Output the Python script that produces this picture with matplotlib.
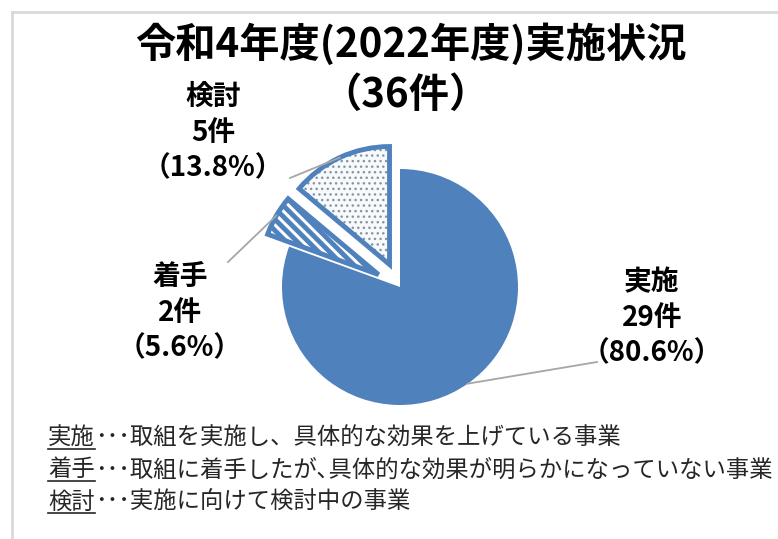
import numpy as np
import matplotlib
matplotlib.use("Agg")
import matplotlib.pyplot as plt
from matplotlib.lines import Line2D

plt.rcParams['font.family'] = ['Noto Sans CJK JP', 'DejaVu Sans']
plt.rcParams['hatch.linewidth'] = 3.5

# data
categories = ["実施", "着手", "検討"]
counts = [29, 2, 5]
percents = ["80.6%", "5.6%", "13.8%"]
total = 36
notes = [
    ("実施", "･･･取組を実施し、具体的な効果を上げている事業"),
    ("着手", "･･･取組に着手したが､具体的な効果が明らかになっていない事業"),
    ("検討", "･･･実施に向けて検討中の事業"),
]

W, H = 778, 539
fig = plt.figure(figsize=(W / 100, H / 100), dpi=100)
ax = fig.add_axes([0, 0, 1, 1])

# light frame on top and left
fig.add_artist(Line2D([12 / W, 12 / W], [0, 1 - 12 / H], color="#d9d9d9", lw=2))
fig.add_artist(Line2D([12 / W, 1], [1 - 12 / H, 1 - 12 / H], color="#d9d9d9", lw=2))

blue = "#4F81BD"
cx, cy, R = 400, 539 - 287, 118
explode = [0, 0.21 * R, 0.21 * R]

wedges, _ = ax.pie(counts, explode=explode, startangle=90, counterclock=False,
                   center=(cx, cy), radius=R, colors=[blue, "white", "#f7fafd"],
                   wedgeprops=dict(linewidth=0), frame=True)
wedges[1].set_hatch("\\\\\\")
wedges[1].set_edgecolor(blue)
wedges[1].set_linewidth(0)
wedges[2].set_hatch("...")
wedges[2].set_edgecolor("#8a949c")
wedges[2].set_linewidth(0)
if hasattr(wedges[2], "set_hatch_linewidth"):
    wedges[2].set_hatch_linewidth(1.0)

# outlines for the exploded slices
outl, _ = ax.pie(counts, explode=explode, startangle=90, counterclock=False,
                 center=(cx, cy), radius=R, colors=["none"] * 3,
                 wedgeprops=dict(linewidth=3.5, edgecolor=blue), frame=True)
outl[0].set_visible(False)
ax.set_xlim(0, W)
ax.set_ylim(0, H)
ax.set_aspect("equal")
ax.axis("off")

# labels with leader lines
label_pos = [(652, 539 - 318), (180, 539 - 313), (213, 539 - 133)]
line_start = [(597, 539 - 362), (228, 539 - 262), (290, 539 - 178)]
for w, name, n, p, tp, ls in zip(wedges, categories, counts, percents, label_pos, line_start):
    mid = np.deg2rad((w.theta1 + w.theta2) / 2)
    wx, wy = w.center
    ex, ey = wx + R * np.cos(mid), wy + R * np.sin(mid)
    ax.text(tp[0], tp[1], f"{name}\n{n}件\n（{p}）", ha="center", va="center",
            fontsize=20, fontweight="bold", linespacing=1.35, color="black")
    ax.plot([ls[0], ex], [ls[1], ey], color="#a6a6a6", lw=1.3)

# title
ax.text(411, 539 - 45, "令和4年度(2022年度)実施状況", ha="center", va="center",
        fontsize=29, fontweight="bold")
ax.text(405, 539 - 95, f"（{total}件）", ha="center", va="center",
        fontsize=29, fontweight="bold")

# footnotes with underlined head word
fig.canvas.draw()
renderer = fig.canvas.get_renderer()
for i, (head, rest) in enumerate(notes):
    y = 539 - (438 + 32 * i)
    t = ax.text(48, y, head, ha="left", va="center", fontsize=16.8, color="#262626")
    bb = t.get_window_extent(renderer)
    ax.plot([bb.x0, bb.x1], [bb.y0 + 1, bb.y0 + 1], color="#262626", lw=1.2)
    ax.text(bb.x1, y, rest, ha="left", va="center", fontsize=16.8, color="#262626")

fig.savefig("out.png", dpi=100)
